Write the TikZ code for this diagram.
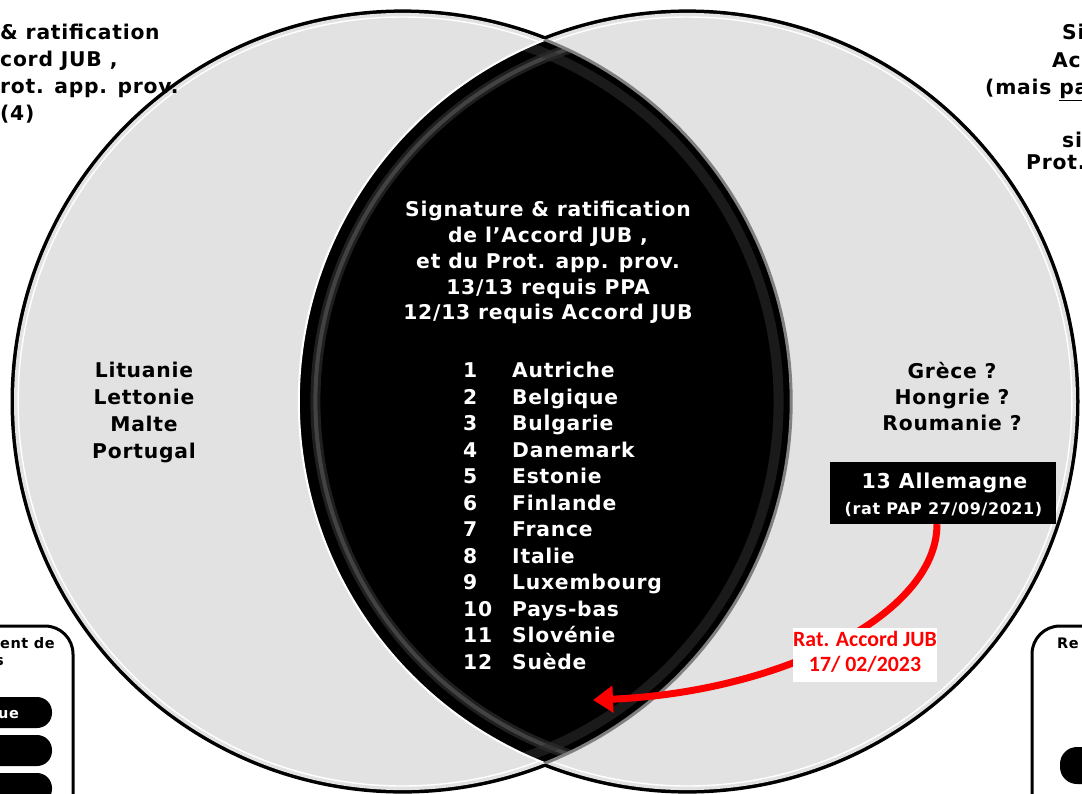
\documentclass[tikz,border=0pt]{standalone}
\usepackage{fontspec}
\setmainfont{DejaVu Sans}[LetterSpace=3.8]
\newfontfamily\calfont{Carlito}
\usetikzlibrary{arrows.meta}
\definecolor{venngray}{HTML}{E2E2E2}
\definecolor{sheen}{HTML}{5A5A5A}
\definecolor{sheendark}{HTML}{2C2C2C}
\begin{document}
\begin{tikzpicture}[x=1pt,y=-1pt,
  txt/.style={inner sep=0pt, font=\fontsize{20.3}{20.3}\selectfont\bfseries, text height=15pt, text depth=0pt},
  wtxt/.style={txt, text=white},
  smalltxt/.style={inner sep=0pt, font=\fontsize{14.5}{14.5}\selectfont\bfseries, text height=10pt, text depth=0pt},
  redtxt/.style={inner sep=0pt, font=\fontsize{21.8}{21.8}\selectfont\calfont\bfseries, text=red, text height=13pt, text depth=0pt},
  pill/.style={fill=black, rounded corners=15pt},
  sidebox/.style={draw=black, line width=3pt, fill=white, rounded corners=28pt}
]
\useasboundingbox (0,0) rectangle (1082,793);
\fill[white] (0,0) rectangle (1082,793);
\coordinate (CL) at (402.6,401.5);
\coordinate (CR) at (687.4,401.5);
% circles
\draw[line width=7pt] (CL) circle[radius=388.6pt];
\draw[line width=7pt] (CR) circle[radius=388.6pt];
\fill[venngray] (CL) circle[radius=388.6pt];
\fill[venngray] (CR) circle[radius=388.6pt];
\draw[white, line width=1.4pt] (CL) circle[radius=384.5pt];
\draw[white, line width=1.4pt] (CR) circle[radius=384.5pt];
% lens
\begin{scope}
  \clip (CL) circle[radius=388.6pt];
  \fill[black] (CR) circle[radius=388.6pt];
  \begin{scope}
    \clip (CR) circle[radius=388.6pt];
    \draw[sheen, opacity=0.35, line width=10pt] (CR) circle[radius=372pt];
    \draw[sheen, opacity=0.6, line width=4pt] (CR) circle[radius=372pt];
    \draw[sheendark, opacity=0.6, line width=10pt] (CL) circle[radius=376pt];
  \end{scope}
  \draw[white, line width=2pt] (CR) circle[radius=388.6pt];
\end{scope}
\begin{scope}
  \clip (CR) circle[radius=388.6pt];
  \draw[gray, line width=3pt] (CL) circle[radius=388.6pt];
\end{scope}
% top-left fragments
\node[txt, anchor=west] (tl1) at (0,32) {\& ratification};
\node[txt, anchor=west] (tl2) at (0,59) {cord JUB ,};
\node[txt, anchor=west] (tl3) at (0,86) {rot. app. prov.};
\node[txt, anchor=west] (tl4) at (0,113) {(4)};
% top-right fragments
\node[txt, anchor=west] (tr1) at (1062,32) {Si};
\node[txt, anchor=west] (tr2) at (1052,60) {Ac};
\node[txt, anchor=west] (tr3) at (985,87) {(mais \underline{pa}};
\node[txt, anchor=west] (tr4) at (1062,140) {si};
\node[txt, anchor=west] (tr5) at (1026,162) {Prot.};
% central title
\node[wtxt] (c1) at (548,209) {Signature \& ratification};
\node[wtxt] (c2) at (548,235) {de l’Accord JUB ,};
\node[wtxt] (c3) at (548,261) {et du Prot. app. prov.};
\node[wtxt] (c4) at (548,287) {13/13 requis PPA};
\node[wtxt] (c5) at (548,312) {12/13 requis Accord JUB};
% list
\foreach \i/\c in {1/Autriche,2/Belgique,3/Bulgarie,4/Danemark,5/Estonie,6/Finlande,7/France,8/Italie,9/Luxembourg,10/Pays-bas,11/Slovénie,12/Suède}{
  \node[wtxt, anchor=west] (n\i) at (463,{370+(\i-1)*26.5}) {\i};
  \node[wtxt, anchor=west] (k\i) at (512,{370+(\i-1)*26.5}) {\c};
}
% left list
\node[txt] (l1) at (144,370) {Lituanie};
\node[txt] (l2) at (144,397) {Lettonie};
\node[txt] (l3) at (144,424) {Malte};
\node[txt] (l4) at (144,451) {Portugal};
% right list
\node[txt] (r1) at (952,371) {Grèce ?};
\node[txt] (r2) at (952,397) {Hongrie ?};
\node[txt] (r3) at (952,423) {Roumanie ?};
% Allemagne box
\node[fill=black, minimum width=226pt, minimum height=62pt, inner sep=0pt] (alle) at (943,493) {};
\node[wtxt, font=\fontsize{20.5}{20.5}\selectfont\bfseries, text height=15pt] (alle1) at (944.5,481) {13 Allemagne};
\node[inner sep=0pt, font=\fontsize{16}{16}\selectfont\bfseries, text=white, text height=11pt, text depth=0pt] (alle2) at (943.5,509) {(rat PAP 27/09/2021)};
% red arrow
\coordinate (tip) at (593,700);
\draw[red, line width=7pt, -{Triangle[length=20pt,width=26pt]}] ([xshift=-6pt]alle.south) .. controls (937,615) and (780,692) .. (tip);
\node[fill=white, minimum width=144pt, minimum height=54pt, inner sep=0pt] (labbox) at (865,655) {};
\node[redtxt] (lab1) at (865,640) {Rat. Accord JUB};
\node[redtxt] (lab2) at (865,665) {17/ 02/2023};
% bottom-left box
\draw[sidebox] (-60,626) rectangle (73,860);
\node[smalltxt, anchor=west] (bl1) at (0,643) {ent de};
\node[smalltxt, anchor=west] (bl2) at (-5,660) {s};
\fill[pill] (-60,697) rectangle (52,728);
\fill[pill] (-60,735) rectangle (52,766);
\fill[pill] (-60,773) rectangle (52,804);
\node[smalltxt, text=white, anchor=west] (bl3) at (-2,713) {ue};
% bottom-right box
\draw[sidebox] (1032,626) rectangle (1160,860);
\node[smalltxt, anchor=west] (br1) at (1057,643) {Re};
\fill[pill, rounded corners=17pt] (1060,747) rectangle (1160,784);
\end{tikzpicture}
\end{document}
